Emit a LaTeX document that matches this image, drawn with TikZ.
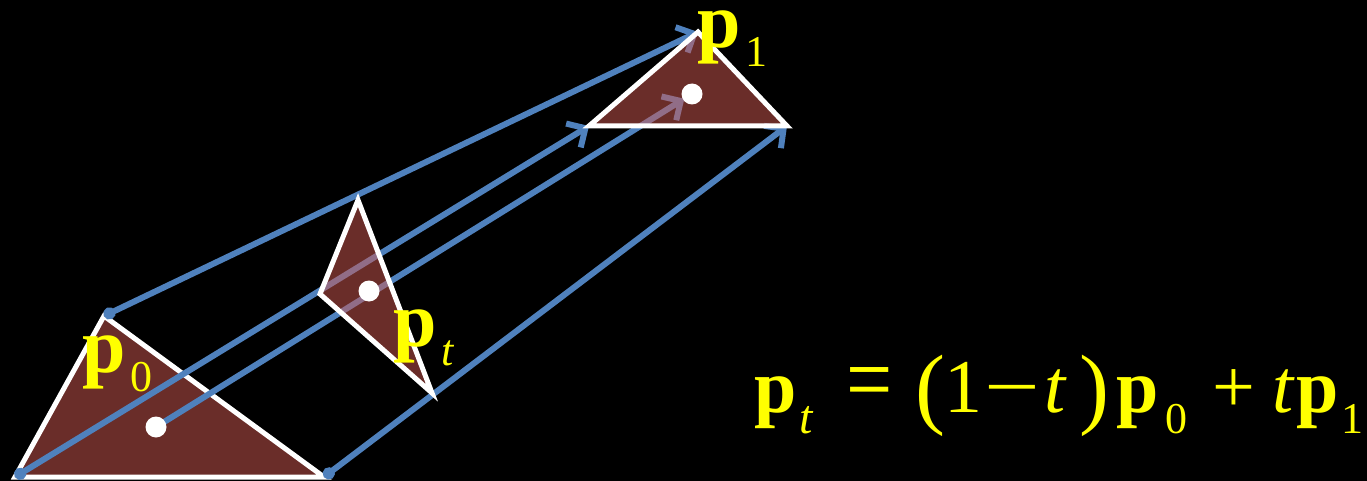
\documentclass[tikz,border=0pt]{standalone}
\usepackage{fontspec}
\setmainfont{Liberation Serif}
\definecolor{arrowblue}{RGB}{79,129,189}
\definecolor{trired}{RGB}{106,45,41}
\definecolor{trilight}{RGB}{212,90,82}
\definecolor{lblyellow}{RGB}{255,255,0}
\usetikzlibrary{arrows.meta, calc}

% subscript lowered below the baseline
\newcommand{\lowsub}[1]{\hspace{5pt}\raisebox{-19pt}{\fontsize{44}{44}\selectfont #1}}
% piece of the formula set at a fixed offset
\newcommand{\eqpart}[2]{\rlap{\hspace{#1pt}#2}}

\begin{document}
\begin{tikzpicture}[x=1pt, y=-1pt,
    tri/.style={draw=white, line width=5pt, fill=trired},
    seetri/.style={tri, fill=trilight, fill opacity=0.5},
    vecarrow/.style={draw=arrowblue, line width=6pt, {Circle[length=12pt]}-{Straight Barb[length=14pt, width=28pt]}},
    midarrow/.style={draw=arrowblue, line width=6pt, -{Straight Barb[length=14pt, width=28pt]}, shorten >=9pt},
    centre/.style={circle, fill=white, inner sep=0pt, minimum size=21pt},
    lbl/.style={text=lblyellow, font=\fontsize{78}{80}\selectfont, inner sep=0pt, anchor=base west}]
  \fill[black] (0,0) rectangle (1367,481);
  \useasboundingbox (0,0) rectangle (1367,481);

  % triangle p0
  \coordinate (a0) at (15,477);
  \coordinate (b0) at (104,316);
  \coordinate (c0) at (324,477);
  \coordinate (m0) at (156,427);
  % triangle pt
  \coordinate (at) at (320,294);
  \coordinate (bt) at (358,200);
  \coordinate (ct) at (432,393);
  \coordinate (mt) at (369,291);
  % triangle p1
  \coordinate (a1) at (589,126);
  \coordinate (b1) at (698,32);
  \coordinate (c1) at (787,126);
  \coordinate (m1) at (692,94);

  \draw[tri] (a0) -- (b0) -- (c0) -- cycle;

  \draw[vecarrow] (b0) -- (b1);
  \draw[vecarrow] (a0) -- (a1);
  \draw[vecarrow] (c0) -- (c1);
  \draw[midarrow] (m0) -- (m1);

  \draw[seetri] (at) -- (bt) -- (ct) -- cycle;
  \draw[seetri] (a1) -- (b1) -- (c1) -- cycle;

  \node[centre] (d0) at (m0) {};
  \node[centre] (dt) at (mt) {};
  \node[centre] (d1) at (m1) {};

  \node[lbl] (lbl0) at (82,372) {\textbf{p}\lowsub{0}};
  \node[lbl] (lblt) at (393,346) {\textbf{p}\lowsub{\textit{t}}};
  \node[lbl] (lbl1) at (697,48) {\textbf{p}\lowsub{1}};

  \node[lbl, font=\fontsize{76}{80}\selectfont] (eqn) at (752,412)
    {\eqpart{2}{\textbf{p}}\eqpart{47}{\raisebox{-21pt}{\fontsize{48}{48}\selectfont\textit{t}}}%
     \eqpart{94}{\scalebox{1}[1.2]{\fontsize{82}{82}\selectfont =}}%
     \eqpart{163}{\raisebox{-5pt}{\fontsize{90}{90}\selectfont(}}%
     \eqpart{192}{1}\eqpart{232}{\scalebox{1.3}[1]{−}}\eqpart{292}{\textit{t}}%
     \eqpart{327}{\raisebox{-5pt}{\fontsize{90}{90}\selectfont)}}%
     \eqpart{364}{\textbf{p}}\eqpart{413}{\raisebox{-21pt}{\fontsize{44}{44}\selectfont 0}}%
     \eqpart{460}{+}\eqpart{520}{\textit{t}}\eqpart{544}{\textbf{p}}%
     \eqpart{589}{\raisebox{-21pt}{\fontsize{44}{44}\selectfont 1}}\hspace{612pt}};
\end{tikzpicture}
\end{document}
